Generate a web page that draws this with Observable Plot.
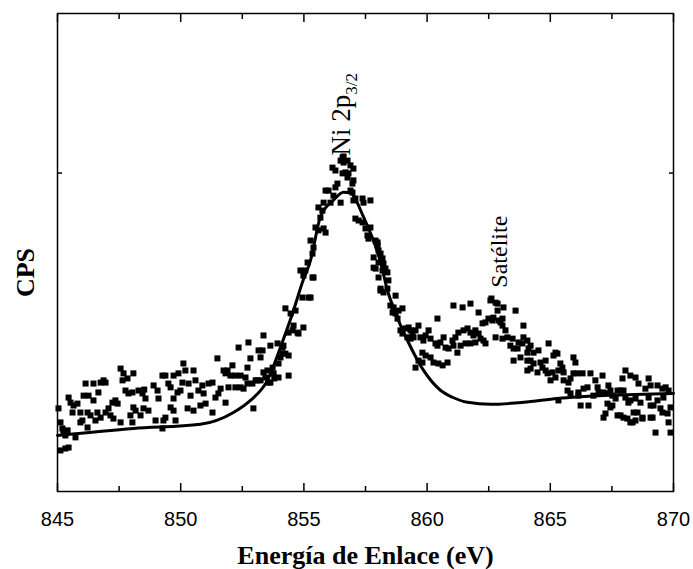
<!DOCTYPE html>
<html><head><meta charset="utf-8">
<script src="https://cdn.jsdelivr.net/npm/d3@7"></script>
<script src="https://cdn.jsdelivr.net/npm/@observablehq/plot@0.6"></script>
<style>body{margin:0;background:#fff}</style>
</head><body><div id="chart"></div>
<script>
// Measured spectrum points [binding energy (eV), intensity (CPS, arbitrary)]
const lowSide = [
[845.04,261],[845.12,217],[845.20,198],[845.24,185],[845.41,192],[845.32,176],[845.12,129],[845.32,135],[845.45,138],[845.73,170],
[845.45,295],[845.53,279],[845.65,270],[845.81,276],[845.61,248],[845.93,248],[846.01,223],[845.93,217],[846.22,201],[846.14,339],
[846.06,301],[846.26,301],[846.46,339],[846.46,286],[846.22,248],[846.34,239],[846.54,223],[846.66,311],[846.75,342],[846.87,349],
[846.95,342],[846.62,248],[846.75,232],[846.95,248],[847.07,261],[847.23,279],[847.35,286],[847.44,276],[847.15,239],[847.27,229],
[847.56,217],[847.56,386],[847.68,371],[847.84,355],[847.64,349],[848.08,371],[847.76,317],[847.88,308],[848.04,311],[848.08,264],
[848.17,254],[847.96,239],[848.04,217],[848.29,317],[848.45,308],[848.49,261],[848.37,239],
[848.52,320],[848.57,292],[848.69,254],[848.90,333],[849.06,317],[849.10,292],[849.26,364],[849.38,364],[848.98,223],[849.30,223],
[849.50,339],[849.59,327],[849.71,364],[849.91,371],[850.11,402],[850.19,380],[850.07,342],[849.87,311],[849.71,292],[849.59,264],
[849.71,254],[849.38,232],[849.79,223],[849.99,317],[850.32,339],[850.52,380],[850.60,349],[850.40,301],[850.28,261],[850.52,254],
[850.72,317],[850.88,333],[850.93,308],[850.80,270],[851.01,276],[851.13,339],[851.29,342],[851.29,248],[851.41,295],[851.53,308],
[851.49,418],[851.62,323],[851.74,380],[851.82,371],[851.82,279],[851.94,327],[849.26,198]
];
const mainPeak = [
[851.90,380],[852.02,364],[852.10,396],[852.22,364],[852.22,327],[852.35,452],[852.43,364],[852.55,323],[852.63,358],[852.71,389],
[852.75,468],[852.83,418],[852.91,339],[853.04,349],[852.95,261],[853.16,443],[853.24,421],[853.32,443],[853.24,349],[853.36,490],
[853.44,358],[853.52,380],[853.56,342],[853.64,458],[853.73,389],[853.77,371],[853.93,465],[853.97,402],[853.97,358],[854.05,421],
[854.13,452],[854.13,433],[854.17,458],[854.25,433],[854.38,364],[854.38,427],[854.25,575],[854.38,499],[854.54,506],[854.58,521],
[854.66,568],[854.74,499],[854.78,496],[854.98,515],[854.94,609],[855.19,609],[854.86,694],[854.98,678],[855.06,694],[855.35,672],
[855.15,719],[854.46,559],[855.27,609],[853.80,355],[853.12,349],[852.71,339],[852.43,327],[853.36,374],[853.64,342],
[855.39,672],[855.35,747],[855.39,766],[855.27,788],[855.47,829],[855.59,820],[855.80,826],[855.88,813],[855.67,860],[855.59,892],
[855.75,882],[855.80,907],[855.88,945],[856.00,945],[856.08,907],[856.20,929],[856.28,955],[856.36,967],[856.49,907],[856.16,1017],
[856.28,1008],[856.49,1039],[856.57,1049],[856.61,1033],[856.69,1002],[856.57,999],[856.81,999],[856.89,1024],[856.97,967],[856.89,945],
[856.97,939],[857.01,914],[857.09,920],[857.38,920],[857.42,907],[857.70,914],[857.09,857],[857.22,851],[857.38,845],[857.50,826],
[857.58,804],[857.62,794],[857.70,829],[857.91,788],[857.99,772],[857.83,735],[857.91,700],[858.03,672],[858.11,637],[857.83,703],
[856.77,1039],[857.01,1014],[856.77,986],[857.01,977],[856.61,1052],
[857.99,782],[858.03,757],[858.11,747],[858.03,719],[858.19,732],[858.23,716],[858.31,700],[858.39,688],[858.19,694],[858.43,663],
[858.11,631],[858.23,625],[858.39,637],[858.72,615],[858.51,584],[858.64,578],[858.60,562],[858.72,559],[858.84,568],[859.00,575],
[858.80,543],[858.92,506],[859.00,496],[859.12,512],[859.25,515],[859.33,506],[859.41,496],[859.53,506],[859.45,484],[859.20,484],
[859.65,521],[859.73,484],[859.85,474],[859.94,490],[859.33,480],[859.81,436],[859.81,405],[859.65,411],[859.53,389],[859.94,427]
];
const satellite = [
[860.06,506],[860.14,480],[860.34,465],[860.42,458],[860.54,468],[860.67,484],[860.75,452],[860.87,449],[861.03,474],[861.07,458],
[861.15,484],[861.27,499],[861.36,458],[861.23,436],[860.83,405],[860.63,396],[860.46,402],[860.26,405],[860.14,421],[860.42,543],
[861.07,584],[861.44,578],
[861.48,506],[861.76,590],[861.64,512],[861.76,499],[861.88,490],[861.96,506],[862.09,562],[862.09,496],[861.56,465],[861.76,465],
[861.96,468],[862.17,480],[862.25,528],[862.37,531],[862.29,474],[862.37,465],[862.49,543],[862.65,537],[862.69,546],[862.57,600],
[862.78,593],[862.86,568],[862.90,537],[863.06,543],[863.10,578],[862.98,531],[863.06,521],[862.78,484],[863.06,480],[863.18,506],
[863.26,484],[863.47,480],[863.38,458],[863.59,568],[863.51,449],[863.67,449],[863.71,468],[863.91,521],[863.91,484],[863.87,465],
[864.07,474],[864.12,449],[864.20,458],[864.07,436],[864.32,436],[863.51,411],[863.79,421],[864.07,411],[864.20,411],[864.52,443],
[864.60,405],[864.68,389],[864.81,380],[864.89,371],[864.93,465],[864.32,402],[864.48,374],[864.20,386],[864.07,380],[862.61,606],
[862.86,590]
];
const highSide = [
[865.21,436],[865.29,433],[865.13,427],[864.81,411],[865.41,402],[865.49,389],[865.94,421],[866.02,405],[865.33,380],[865.54,374],
[865.09,374],[865.01,349],[865.21,358],[865.54,349],[865.74,342],[865.82,355],[865.94,371],[866.10,371],[866.31,371],[866.63,371],
[866.83,349],[867.12,364],[865.70,317],[865.82,308],[866.14,311],[866.35,323],[866.51,327],[866.92,327],[866.96,311],[867.16,311],
[867.36,333],[867.44,317],[867.52,301],[866.23,270],[866.55,270],[867.32,276],[867.44,264],[867.24,245],[867.16,232],[865.33,286],
[866.14,301],[866.75,301],[867.73,239],[867.97,232],[868.25,217],[868.38,248],[868.74,232],[869.07,232],[869.27,185],[869.88,185],
[869.80,217],[869.55,248],[869.88,264],
[867.32,308],[867.52,270],[867.65,292],[867.73,317],[867.85,317],[867.97,317],[867.93,355],[868.05,380],[868.25,364],[868.46,358],
[868.58,339],[868.99,355],[868.86,323],[869.07,333],[869.35,333],[869.55,323],[869.68,327],[869.80,317],[868.05,295],[868.25,286],
[868.46,292],[868.66,279],[868.17,279],[868.54,248],[868.46,223],[868.34,217],[867.85,239],[868.13,229],[868.74,229],[869.15,232],
[869.07,270],[869.19,270],[869.47,261],[869.76,245],[868.99,295],[869.35,286],[869.59,295]
];

// Fitted envelope
const fitEnergy = [845.00,848.08,850.80,852.14,852.83,853.52,854.05,854.58,854.94,855.27,855.67,856.20,856.61,856.89,857.42,858.11,858.39,858.72,859.20,859.85,860.54,861.03,861.64,862.57,863.91,865.29,867.32,870.00];
const fitCps    = [176,198,211,248,286,349,453,569,657,726,862,915,940,937,862,720,632,560,475,381,318,296,280,274,280,292,302,308];

const majorTicks = [845, 850, 855, 860, 865, 870];
const minorTicks = [847.5, 852.5, 857.5, 862.5, 867.5];
const yTicks = [1000];

const points = [...lowSide, ...mainPeak, ...satellite, ...highSide].map(([e, c]) => ({energy: e, cps: c}));
const fit = fitEnergy.map((e, i) => ({energy: e, cps: fitCps[i]}));

const serif = "'Liberation Serif','Times New Roman',serif";
const sans = "'Liberation Sans',Arial,sans-serif";
const blank = () => "";

const chart = Plot.plot({
  width: 693, height: 569,
  marginLeft: 57, marginRight: 20, marginTop: 13, marginBottom: 78,
  style: {background: "white", color: "black", fontFamily: sans},
  x: {domain: [845, 870], label: null},
  y: {domain: [0, 1501], label: null},
  marks: [
    Plot.line(fit, {x: "energy", y: "cps", curve: "monotone-x", stroke: "black", strokeWidth: 3}),
    Plot.dot(points, {x: "energy", y: "cps", symbol: "square", r: 3.4, fill: "black", stroke: "none"}),
    Plot.frame({stroke: "black", strokeWidth: 1.5}),
    Plot.axisX(majorTicks, {anchor: "bottom", tickSize: -8, tickFormat: blank, label: null, strokeWidth: 1.5}),
    Plot.axisX(minorTicks, {anchor: "bottom", tickSize: -5, tickFormat: blank, label: null, strokeWidth: 1.5}),
    Plot.axisX(majorTicks, {anchor: "top", tickSize: -8, tickFormat: blank, label: null, strokeWidth: 1.5}),
    Plot.axisX(minorTicks, {anchor: "top", tickSize: -5, tickFormat: blank, label: null, strokeWidth: 1.5}),
    Plot.axisY(yTicks, {anchor: "left", tickSize: -5, tickFormat: blank, label: null, strokeWidth: 1.5}),
    Plot.axisY(yTicks, {anchor: "right", tickSize: -5, tickFormat: blank, label: null, strokeWidth: 1.5}),
    Plot.axisX(majorTicks, {anchor: "bottom", tickSize: 0, tickPadding: 20, fontSize: 20, label: null, tickFormat: d => String(d)}),
    Plot.text(["Energía de Enlace (eV)"], {text: d => d, frameAnchor: "bottom", dy: 72, lineAnchor: "bottom", fontFamily: serif, fontWeight: "bold", fontSize: 26}),
    Plot.text(["CPS"], {text: d => d, frameAnchor: "left", dx: -24, dy: 20, rotate: -90, textAnchor: "middle", lineAnchor: "bottom", fontFamily: serif, fontWeight: "bold", fontSize: 26}),
    Plot.text(["Ni 2p"], {text: d => d, x: 856.89, y: 1055, rotate: -90, textAnchor: "start", lineAnchor: "bottom", fontFamily: serif, fontSize: 27}),
    Plot.text(["Satélite"], {text: d => d, x: 863.26, y: 640, rotate: -90, textAnchor: "start", lineAnchor: "bottom", fontFamily: serif, fontSize: 24})
  ]
});

const ni = Array.from(chart.querySelectorAll("text")).find(t => t.textContent === "Ni 2p");
if (ni) {
  const ts = document.createElementNS("http://www.w3.org/2000/svg", "tspan");
  ts.setAttribute("font-size", "17");
  ts.setAttribute("dy", "7");
  ts.textContent = "3/2";
  ni.appendChild(ts);
}
document.getElementById("chart").appendChild(chart);
</script>
</body></html>
